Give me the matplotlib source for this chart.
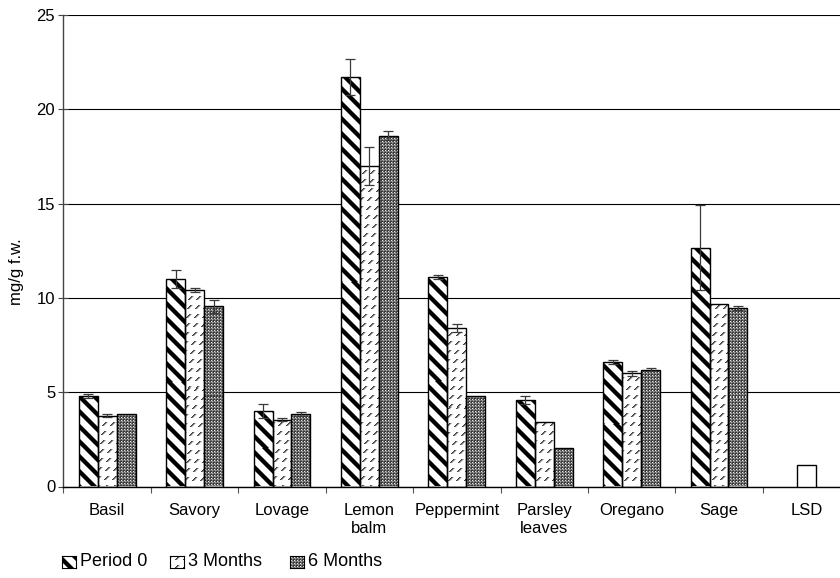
import numpy as np
import matplotlib
matplotlib.use("Agg")
import matplotlib.pyplot as plt

plt.rcParams["font.family"] = ["Liberation Sans", "DejaVu Sans"]
plt.rcParams["font.size"] = 12

# ---- data -------------------------------------------------------------
categories = ["Basil", "Savory", "Lovage", "Lemon\nbalm", "Peppermint",
              "Parsley\nleaves", "Oregano", "Sage", "LSD"]
series_names = ["Period 0", "3 Months", "6 Months"]
period0 = [4.8, 11.0, 4.0, 21.7, 11.1, 4.6, 6.6, 12.65]
months3 = [3.75, 10.4, 3.55, 17.0, 8.4, 3.4, 6.0, 9.7]
months6 = [3.85, 9.55, 3.85, 18.6, 4.8, 2.05, 6.2, 9.45]
err0 = [0.1, 0.5, 0.35, 0.95, 0.1, 0.22, 0.1, 2.25]
err3 = [0.08, 0.1, 0.08, 1.0, 0.2, 0.0, 0.15, 0.0]
err6 = [0.0, 0.35, 0.1, 0.25, 0.0, 0.0, 0.07, 0.1]
lsd_value = 1.15
y_ticks = [0, 5, 10, 15, 20, 25]

W, H, DPI = 840, 578, 100


# ---- fill textures (pixel patterns) -----------------------------------
def texture(kind, rows, cols, r0=0, c0=0):
    i = np.arange(rows)[:, None] + r0
    j = np.arange(cols)[None, :] + c0
    v = np.ones((rows, cols))
    if kind == "stripe":
        d = (i - j) % 15
        v[(d >= 1) & (d <= 5)] = 0.0
        v[(d == 0) | (d == 6)] = 0.45
    elif kind == "dash":
        s = (i + j) % 8
        band = (i % 9) < 4
        v[(s == 0) & band] = 0.25
        v[(s == 1) & band] = 0.45
        v[(s == 2) & band] = 0.8
    elif kind == "dots":
        tile = np.array([[0.22, 0.22, 0.45],
                         [0.22, 0.90, 0.45],
                         [0.45, 0.45, 0.65]])
        v = tile[i % 3, j % 3]
    return np.repeat(v[..., None], 3, axis=2)


fig = plt.figure(figsize=(W / DPI, H / DPI), dpi=DPI)
ax_left, ax_right = 63.5, 63.5 + 9 * 87.4
ax_top, ax_bot = 15.0, 486.5
ax = fig.add_axes([ax_left / W, (H - ax_bot) / H,
                   (ax_right - ax_left) / W, (ax_bot - ax_top) / H])

n = len(categories)
x = np.arange(n)
bw = 0.217
ax.set_xlim(-0.5, n - 0.5)
ax.set_ylim(0, 25)

# gridlines
ax.set_yticks(y_ticks)
ax.yaxis.grid(True, color="black", linewidth=0.8)
ax.set_axisbelow(True)

groups = [(period0, err0, "stripe"), (months3, err3, "dash"),
          (months6, err6, "dots")]
offsets = [-bw, 0.0, bw]


def textured_bar(xc, h, kind):
    bars = ax.bar(xc, h, width=bw, facecolor="none", edgecolor="black",
                  linewidth=1.0, zorder=3)
    rect = bars[0]
    x0, x1 = xc - bw / 2, xc + bw / 2
    p0 = ax.transData.transform((x0, 0))
    p1 = ax.transData.transform((x1, h))
    cols = max(int(round(p1[0] - p0[0])), 1)
    rows = max(int(round(p1[1] - p0[1])), 1)
    img = texture(kind, rows, cols, int(round(H - p1[1])), int(round(p0[0])))
    im = ax.imshow(img, extent=(x0, x1, 0, h), origin="upper",
                   interpolation="nearest", aspect="auto", zorder=2)
    im.set_clip_path(rect)


for (vals, errs, kind), off in zip(groups, offsets):
    xs = x[:len(vals)] + off
    for xc, h in zip(xs, vals):
        textured_bar(xc, h, kind)
    ev = [(xc, h, e) for xc, h, e in zip(xs, vals, errs) if e > 0]
    ax.errorbar([a for a, _, _ in ev], [b for _, b, _ in ev],
                yerr=[c for _, _, c in ev], fmt="none", ecolor="#3a3a3a",
                elinewidth=0.9, capsize=3.5, capthick=0.9, zorder=4)

# LSD bar
ax.bar(x[-1], lsd_value, width=bw, facecolor="white", edgecolor="black",
       linewidth=1.0, zorder=3)

ax.set_xlim(-0.5, n - 0.5)
ax.set_ylim(0, 25)

# x axis: boundary ticks, labels at category centres
ax.set_xticks(np.arange(n + 1) - 0.5)
ax.set_xticklabels([])
ax.tick_params(axis="x", which="major", direction="out", length=4,
               width=0.8, color="#555555")
ax.set_xticks(x, minor=True)
ax.set_xticklabels(categories, minor=True)
ax.tick_params(axis="x", which="minor", length=0, pad=12, labelsize=12)

ax.tick_params(axis="y", direction="inout", length=7, width=0.8,
               color="#444444", pad=2.5, labelsize=12)
ax.set_yticklabels([str(t) for t in y_ticks])

for s in ["top", "right"]:
    ax.spines[s].set_visible(False)
ax.spines["left"].set_color("#444444")
ax.spines["left"].set_linewidth(1.0)
ax.spines["bottom"].set_color("black")
ax.spines["bottom"].set_linewidth(1.0)

ax.set_ylabel("mg/g f.w.", fontsize=12)
ax.yaxis.set_label_coords((24 - ax_left) / (ax_right - ax_left),
                          (ax_bot - 272) / (ax_bot - ax_top))

# ---- legend row -------------------------------------------------------
legend_y = 562
sw_w, sw_h = 14, 12
swatch_x = [62, 170, 290]
kinds = ["stripe", "dash", "dots"]
for sx, kind, name in zip(swatch_x, kinds, series_names):
    sax = fig.add_axes([sx / W, (H - legend_y - sw_h / 2) / H,
                        sw_w / W, sw_h / H])
    sax.imshow(texture(kind, sw_h, sw_w, 0, 0), interpolation="nearest",
               aspect="auto")
    sax.set_xticks([])
    sax.set_yticks([])
    for sp in sax.spines.values():
        sp.set_color("black")
        sp.set_linewidth(0.8)
    fig.text((sx + sw_w + 4) / W, (H - legend_y) / H, name,
             ha="left", va="center", fontsize=13)

fig.savefig("out.png", dpi=DPI)
